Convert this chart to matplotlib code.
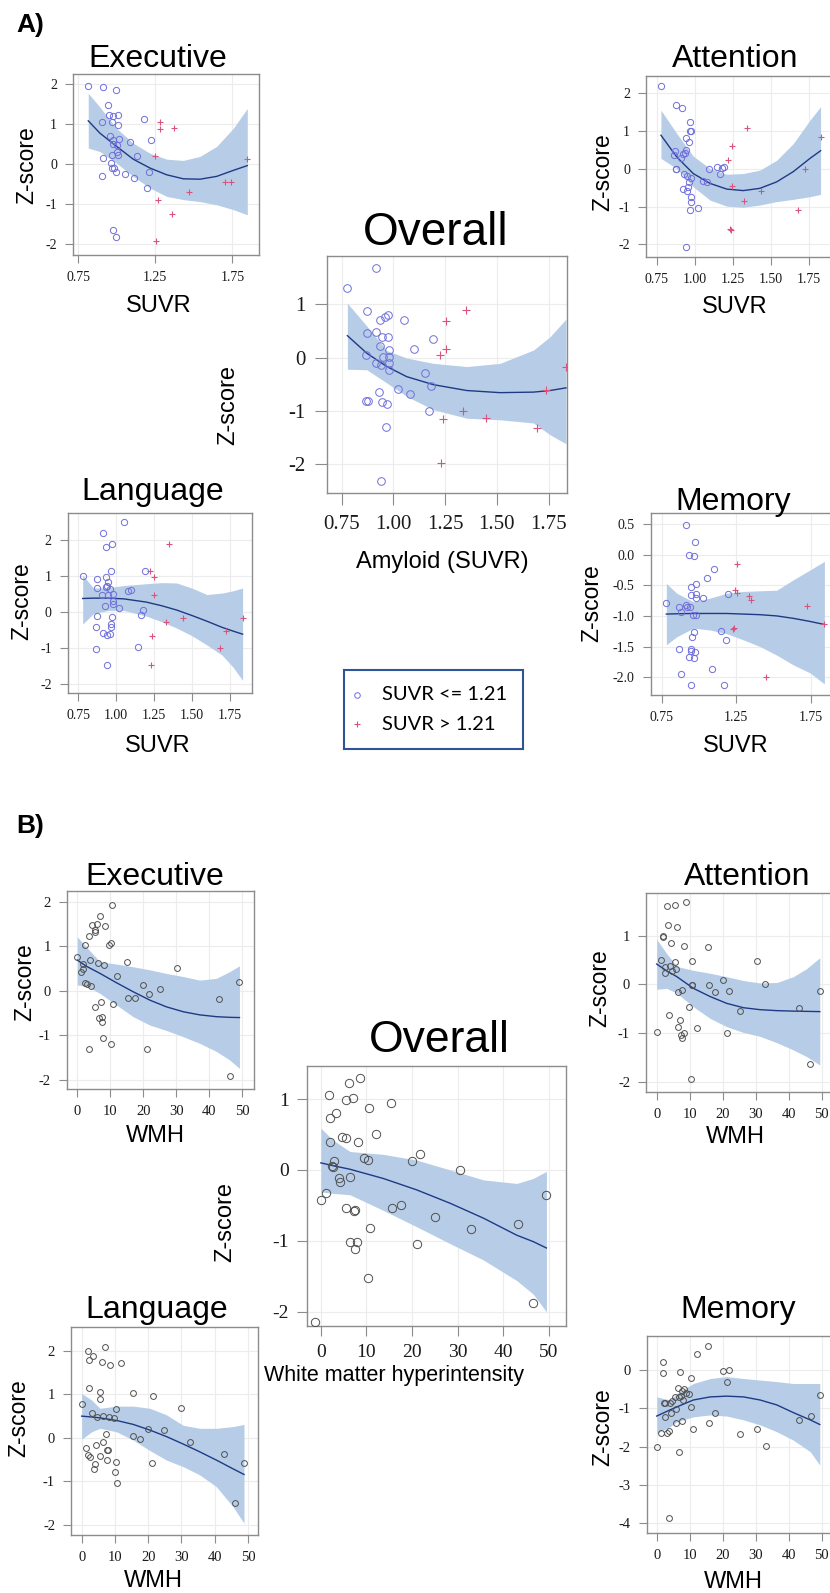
import matplotlib
matplotlib.use('Agg')
import matplotlib.pyplot as plt

plt.rcParams['axes.unicode_minus'] = False

# ---------------- DATA ----------------
# Panel A: Executive
EXA_CX = [0.815, 0.908, 0.997, 0.945, 0.95, 0.977, 1.008, 0.902, 0.968, 1.008, 1.176, 0.956, 0.977, 1.012, 0.999, 0.977, 1.083, 1.22,
          0.912, 0.968, 0.999, 1.008, 1.129, 0.962, 0.966, 0.981, 0.992, 1.055, 1.111, 1.207, 0.902, 1.196, 0.975, 0.997]
EXA_CY = [1.95, 1.93, 1.85, 1.48, 1.23, 1.19, 1.23, 1.04, 1.04, 0.98, 1.12, 0.69, 0.60, 0.62, 0.48, 0.50, 0.54, 0.60,
          0.16, 0.23, 0.31, 0.23, 0.20, 0.02, -0.09, -0.09, -0.19, -0.25, -0.35, -0.19, -0.31, -0.60, -1.65, -1.83]
EXA_PX = [1.28, 1.28, 1.371, 1.25, 1.267, 1.466, 1.356, 1.256, 1.70, 1.743, 1.847]
EXA_PY = [1.04, 0.87, 0.89, 0.19, -0.89, -0.69, -1.25, -1.92, -0.45, -0.44, 0.12]
EXA_FX = [0.815, 0.891, 0.999, 1.107, 1.215, 1.324, 1.432, 1.540, 1.648, 1.756, 1.847]
EXA_FIT = [1.08, 0.77, 0.44, 0.12, -0.10, -0.27, -0.37, -0.38, -0.31, -0.16, -0.04]
EXA_HI = [1.77, 1.42, 0.89, 0.52, 0.27, 0.12, 0.09, 0.19, 0.44, 0.89, 1.39]
EXA_LO = [0.40, 0.31, 0.02, -0.31, -0.60, -0.81, -0.89, -0.94, -1.02, -1.14, -1.27]

# Panel A: Attention
ATA_CX = [0.778, 0.875, 0.914, 0.971, 0.971, 0.975, 0.94, 0.962, 0.87, 0.94, 0.866, 0.925, 0.936, 0.908, 0.875, 0.879, 0.929, 0.947,
          0.975, 0.96, 0.958, 0.925, 0.947, 0.975, 0.975, 0.967, 1.021, 1.052, 1.078, 1.096, 1.144, 1.166, 1.179, 1.192, 0.94]
ATA_CY = [2.18, 1.67, 1.60, 1.24, 1.00, 1.00, 0.80, 0.71, 0.47, 0.49, 0.36, 0.38, 0.40, 0.27, 0.00, -0.01, -0.13, -0.19,
          -0.26, -0.35, -0.48, -0.54, -0.58, -0.74, -0.87, -1.10, -1.03, -0.32, -0.36, -0.01, 0.05, -0.15, 0.02, 0.05, -2.06]
ATA_PX = [1.345, 1.247, 1.220, 1.247, 1.325, 1.435, 1.234, 1.24, 1.68, 1.724, 1.826]
ATA_PY = [1.08, 0.59, 0.22, -0.46, -0.86, -0.58, -1.60, -1.62, -1.09, -0.02, 0.84]
ATA_FX = [0.778, 0.881, 0.99, 1.10, 1.21, 1.319, 1.428, 1.538, 1.647, 1.757, 1.826]
ATA_FIT = [0.88, 0.31, -0.13, -0.39, -0.54, -0.58, -0.52, -0.35, -0.08, 0.27, 0.47]
ATA_HI = [1.54, 0.93, 0.33, 0.0, -0.15, -0.13, -0.04, 0.22, 0.66, 1.28, 1.63]
ATA_LO = [0.27, 0.0, -0.48, -0.83, -0.99, -1.02, -0.96, -0.87, -0.81, -0.74, -0.68]

# Panel A: Overall
OVA_CX = [0.777, 0.913, 0.872, 0.935, 0.961, 0.974, 1.053, 0.872, 0.913, 0.943, 0.972, 0.935, 0.976, 1.193, 1.098, 0.866, 0.948,
          0.979, 0.916, 0.94, 0.98, 0.977, 1.15, 1.182, 1.024, 1.08, 0.929, 0.866, 0.876, 0.945, 0.969, 1.171, 0.963, 0.94]
OVA_CY = [1.31, 1.675, 0.87, 0.71, 0.76, 0.79, 0.71, 0.46, 0.47, 0.39, 0.38, 0.21, 0.14, 0.34, 0.16, 0.05, 0.01,
          0.01, -0.11, -0.14, -0.11, -0.24, -0.29, -0.53, -0.59, -0.69, -0.65, -0.81, -0.81, -0.84, -0.87, -1.01, -1.31, -2.31]
OVA_PX = [1.349, 1.253, 1.254, 1.225, 1.241, 1.335, 1.446, 1.693, 1.232, 1.738, 1.834]
OVA_PY = [0.89, 0.69, 0.16, 0.04, -1.15, -1.0, -1.14, -1.33, -1.99, -0.61, -0.17]
OVA_FX = [0.777, 0.871, 0.968, 1.064, 1.193, 1.354, 1.515, 1.677, 1.757, 1.834]
OVA_FIT = [0.41, 0.08, -0.17, -0.36, -0.51, -0.62, -0.66, -0.65, -0.62, -0.57]
OVA_HI = [1.02, 0.59, 0.13, -0.01, -0.11, -0.17, -0.11, 0.14, 0.39, 0.72]
OVA_LO = [-0.22, -0.23, -0.48, -0.73, -0.98, -1.14, -1.17, -1.23, -1.45, -1.62]

# Panel A: Language
LGA_CX = [0.779, 1.052, 0.913, 0.935, 0.973, 0.964, 0.876, 0.933, 0.874, 0.933, 0.942, 0.946, 0.960, 0.909, 0.946, 0.977, 0.982, 0.927,
          0.977, 1.022, 1.079, 1.099, 1.189, 1.180, 1.167, 0.874, 0.973, 0.966, 0.966, 0.865, 0.916, 0.942, 0.960, 1.147, 0.867, 0.940]
LGA_CY = [1.0, 2.48, 2.19, 1.81, 1.89, 1.13, 0.92, 0.97, 0.67, 0.70, 0.72, 0.83, 0.62, 0.48, 0.48, 0.49, 0.31, 0.17,
          0.21, 0.12, 0.57, 0.60, 1.13, 0.05, -0.10, -0.11, -0.15, -0.34, -0.41, -0.43, -0.60, -0.64, -0.61, -0.97, -1.04, -1.47]
LGA_PX = [1.348, 1.225, 1.249, 1.251, 1.328, 1.441, 1.238, 1.231, 1.686, 1.728, 1.836]
LGA_PY = [1.87, 1.14, 0.97, 0.47, -0.27, -0.18, -0.67, -1.48, -0.99, -0.54, -0.16]
LGA_FX = [0.779, 0.85, 0.95, 1.05, 1.2, 1.3, 1.4, 1.5, 1.6, 1.7, 1.77, 1.836]
LGA_FIT = [0.37, 0.38, 0.38, 0.36, 0.27, 0.17, 0.05, -0.10, -0.26, -0.43, -0.53, -0.62]
LGA_HI = [1.02, 0.66, 0.67, 0.73, 0.78, 0.81, 0.80, 0.66, 0.48, 0.52, 0.58, 0.66]
LGA_LO = [-0.34, -0.05, 0.04, 0.04, -0.12, -0.27, -0.45, -0.66, -0.92, -1.2, -1.52, -1.9]

# Panel A: Memory
MMA_CX = [0.916, 0.971, 0.936, 0.965, 1.101, 1.054, 0.978, 0.945, 1.195, 0.949, 0.978, 0.98, 1.025, 0.781, 0.869, 0.911, 0.92, 0.94,
          0.88, 0.958, 0.978, 0.967, 1.15, 1.184, 0.951, 0.869, 0.945, 0.945, 0.976, 0.931, 0.969, 1.086, 0.88, 0.945, 1.171]
MMA_CY = [0.49, 0.21, 0.0, -0.03, -0.24, -0.38, -0.48, -0.53, -0.64, -0.66, -0.64, -0.70, -0.70, -0.79, -0.86, -0.82, -0.86, -0.85,
          -0.93, -0.98, -0.98, -1.27, -1.24, -1.40, -1.35, -1.54, -1.54, -1.58, -1.59, -1.67, -1.69, -1.87, -1.95, -2.13, -2.13]
MMA_PX = [1.253, 1.24, 1.253, 1.334, 1.347, 1.728, 1.229, 1.236, 1.448, 1.842]
MMA_PY = [-0.16, -0.58, -0.63, -0.68, -0.74, -0.84, -1.22, -1.20, -2.0, -1.13]
MMA_FX = [0.781, 0.851, 0.963, 1.074, 1.186, 1.298, 1.41, 1.522, 1.634, 1.746, 1.842]
MMA_FIT = [-0.97, -0.965, -0.96, -0.96, -0.96, -0.97, -0.98, -1.0, -1.04, -1.09, -1.14]
MMA_HI = [-0.47, -0.63, -0.77, -0.71, -0.63, -0.60, -0.59, -0.58, -0.41, -0.25, -0.11]
MMA_LO = [-1.47, -1.34, -1.20, -1.23, -1.29, -1.39, -1.50, -1.64, -1.80, -1.93, -2.11]

# Panel B: Executive
EXB_X = [0.0, 1.2, 1.6, 1.8, 2.2, 3.4, 2.2, 2.9, 3.8, 4.2, 3.6, 4.5, 5.3, 5.3, 5.4, 6.1, 6.2, 6.5, 6.9, 7.2, 7.5, 7.5, 8.1, 7.9, 8.5,
         9.5, 10.3, 10.5, 10.7, 10.2, 11.9, 15.2, 15.4, 17.4, 19.8, 21.6, 21.0, 24.9, 30.1, 42.9, 46.2, 49.1]
EXB_Y = [0.77, 0.43, 0.60, 0.48, 1.03, 1.22, 0.18, 0.15, 0.69, 0.11, -1.30, 1.47, 1.36, 1.32, -0.37, 1.49, 0.62, -0.60, 1.69, -0.25,
         -0.58, -0.70, 0.59, -1.07, 1.45, 1.03, 1.07, 1.93, -0.30, -1.19, 0.33, 0.65, -0.17, -0.17, 0.12, -0.08, -1.31, 0.03, 0.52,
         -0.18, -1.91, 0.20]
EXB_FX = [0, 2.8, 6.9, 11.9, 16.9, 22.0, 27.0, 32.1, 37.1, 42.1, 46.1, 49.1]
EXB_FIT = [0.69, 0.55, 0.39, 0.18, -0.02, -0.21, -0.36, -0.47, -0.54, -0.58, -0.595, -0.60]
EXB_HI = [1.21, 0.98, 0.65, 0.60, 0.54, 0.47, 0.39, 0.32, 0.24, 0.28, 0.43, 0.56]
EXB_LO = [0.13, 0.11, -0.06, -0.32, -0.58, -0.77, -0.89, -1.03, -1.18, -1.36, -1.55, -1.74]

# Panel B: Attention
ATB_X = [0.0, 1.2, 1.8, 2.0, 2.4, 2.4, 3.0, 3.5, 3.8, 4.0, 4.3, 4.6, 5.5, 5.6, 5.9, 6.3, 6.4, 6.5, 7.1, 7.4, 7.7, 7.6, 8.2, 8.3, 8.8,
         9.7, 10.6, 10.8, 10.7, 10.3, 12.1, 15.5, 15.8, 17.8, 20.0, 21.2, 21.9, 25.1, 30.4, 32.9, 43.2, 46.5, 49.4]
ATB_Y = [-0.97, 0.51, 0.97, 1.0, 0.35, 0.23, 1.62, 1.23, -0.63, 0.37, 0.85, 0.28, 1.64, 0.47, 0.32, 1.19, -0.87, -0.16, -0.73, -1.04,
         -1.11, -0.11, -1.01, 0.79, 1.69, -0.46, -0.01, 0.49, -0.01, -1.95, -0.90, 0.78, -0.01, -0.15, 0.09, -1.01, -0.13, -0.54,
         0.49, 0.0, -0.48, -1.63, -0.13]
ATB_FX = [0, 3.0, 6.1, 11.1, 16.2, 21.2, 26.3, 31.3, 36.4, 41.4, 45.5, 49.4]
ATB_FIT = [0.42, 0.28, 0.16, -0.08, -0.25, -0.39, -0.48, -0.52, -0.54, -0.55, -0.555, -0.56]
ATB_HI = [0.93, 0.64, 0.37, 0.29, 0.23, 0.16, 0.08, 0.03, 0.04, 0.16, 0.33, 0.55]
ATB_LO = [-0.10, -0.08, -0.18, -0.46, -0.70, -0.87, -0.99, -1.07, -1.20, -1.35, -1.49, -1.66]

# Panel B: Overall
OVB_X = [0.0, 1.2, 1.8, 2.0, 2.0, 2.5, 2.6, 3.0, 3.4, 3.9, 4.2, 4.7, 5.5, 5.5, 5.6, 6.2, 6.4, 7.0, 7.4, 7.3, 8.2, 8.6, 6.5, 8.0,
         7.6, 9.5, 10.4, 10.6, 10.8, 10.4, 12.1, 15.4, 15.6, 17.7, 20.0, 21.8, 21.2, 25.1, 30.5, 32.9, 43.3, 49.5, -1.2, 46.5]
OVB_Y = [-0.42, -0.33, 1.05, 0.73, 0.40, 0.05, 0.04, 0.12, 0.80, -0.11, -0.17, 0.47, 0.45, 0.98, -0.53, 1.23, -0.10, 1.01, -0.56,
         -0.58, 0.39, 1.29, -1.01, -1.01, -1.11, 0.17, 0.14, 0.88, -0.82, -1.53, 0.50, 0.95, -0.53, -0.50, 0.12, 0.22, -1.04, -0.66,
         0.0, -0.83, -0.76, -0.36, -2.14, -1.87]
OVB_FX = [0, 2.7, 6.4, 13.7, 21.0, 28.4, 35.7, 43.0, 46.6, 49.5]
OVB_FIT = [0.10, 0.06, 0.01, -0.12, -0.28, -0.47, -0.68, -0.92, -1.01, -1.10]
OVB_HI = [0.59, 0.42, 0.26, 0.22, 0.14, 0.0, -0.14, -0.19, -0.12, -0.02]
OVB_LO = [-0.31, -0.33, -0.35, -0.57, -0.80, -1.04, -1.27, -1.56, -1.75, -2.0]

# Panel B: Language
LGB_X = [0, 1.3, 1.8, 2.1, 2.0, 2.5, 2.3, 3.5, 3.0, 4.0, 3.8, 4.3, 4.7, 5.5, 5.5, 5.5, 6.2, 6.5, 6.5, 7.0, 7.3, 7.5, 8.0, 7.5, 8.2,
         8.6, 9.6, 10.4, 10.4, 10.1, 10.6, 11.9, 15.3, 15.4, 17.5, 19.8, 21.0, 21.5, 24.7, 30.0, 32.5, 42.7, 46.0, 48.8]
LGB_Y = [0.79, -0.23, 1.99, 1.80, -0.40, -0.43, 1.14, 1.89, 0.58, -0.59, -0.72, -0.17, 0.49, 1.05, 0.90, -0.42, 1.74, 0.51, -0.10,
         2.09, 0.10, -0.27, -0.27, -0.50, 0.47, 1.68, 0.46, 0.66, -0.55, -0.78, -1.04, 1.71, 1.02, 0.05, -0.02, 0.21, -0.57, 0.97,
         0.18, 0.68, -0.10, -0.37, -1.49, -0.57]
LGB_FX = [0, 3.0, 5.5, 10.5, 15.5, 20.5, 25.5, 30.5, 35.5, 40.5, 45.5, 48.8]
LGB_FIT = [0.50, 0.48, 0.46, 0.40, 0.31, 0.18, 0.03, -0.14, -0.32, -0.51, -0.71, -0.84]
LGB_HI = [1.02, 0.87, 0.68, 0.73, 0.73, 0.68, 0.53, 0.29, 0.22, 0.22, 0.26, 0.31]
LGB_LO = [-0.03, 0.14, 0.22, 0.14, -0.05, -0.29, -0.51, -0.66, -0.85, -1.12, -1.58, -1.96]

# Panel B: Memory
MMB_X = [0, 1.2, 2.0, 1.9, 2.2, 2.6, 2.5, 3.0, 3.6, 3.8, 4.0, 4.3, 4.6, 5.5, 5.7, 5.9, 6.3, 6.6, 6.7, 7.2, 7.5, 7.7, 7.8, 8.1, 8.3,
         8.9, 9.7, 10.4, 10.5, 10.9, 12.1, 15.5, 15.8, 17.8, 20.0, 21.2, 21.9, 25.2, 30.5, 33.0, 43.2, 46.6, 49.4]
MMB_Y = [-2.0, -1.63, 0.22, -0.08, -0.85, -0.85, -1.23, -1.63, -1.58, -3.86, -0.87, -1.13, -0.80, -0.70, -1.39, -1.02, -0.46, -2.13,
         -0.70, -0.04, -0.67, -1.32, -0.55, -0.78, -0.50, -0.61, -0.63, -0.96, -0.21, -1.55, 0.41, 0.63, -1.39, -1.11, -0.03, -0.30,
         0.0, -1.68, -1.54, -1.97, -1.30, -1.20, -0.65]
MMB_FX = [0, 4.0, 6.1, 11.1, 16.2, 21.2, 26.3, 31.3, 36.4, 41.4, 46.5, 49.4]
MMB_FIT = [-1.20, -1.04, -0.96, -0.78, -0.70, -0.68, -0.70, -0.78, -0.91, -1.11, -1.30, -1.42]
MMB_HI = [-0.70, -0.78, -0.61, -0.35, -0.22, -0.17, -0.22, -0.26, -0.30, -0.35, -0.35, -0.35]
MMB_LO = [-1.65, -1.48, -1.35, -1.22, -1.17, -1.20, -1.30, -1.43, -1.61, -1.83, -2.13, -2.48]

SUVR_TICKS_3 = [0.75, 1.25, 1.75]
SUVR_TICKS_5 = [0.75, 1.00, 1.25, 1.50, 1.75]
WMH_TICKS = [0, 10, 20, 30, 40, 50]
LEGEND_LABELS = ['SUVR <= 1.21', 'SUVR > 1.21']

# ---------------- STYLE ----------------
W, H = 830, 1593
fig = plt.figure(figsize=(W / 100, H / 100), dpi=100)
SANS = ['Liberation Sans', 'Arimo', 'DejaVu Sans']
SERIF = ['Liberation Serif', 'Tinos', 'DejaVu Serif']
BAND = '#B7CDE7'
LINE = '#1E3A85'
CIRC = '#6F6FDB'
CROSS = '#D9537A'
GREY = '#505050'
FRAME = '#8C8C8C'


def add_ax(l, t, r, b):
    return fig.add_axes([l / W, 1 - b / H, (r - l) / W, (b - t) / H])


def ftext(x, y, s, **kw):
    fig.text(x / W, 1 - y / H, s, **kw)


def style(ax, xlim, ylim, xticks, yticks, xfmt, yfmt, fs, tl, pad):
    ax.set_xlim(xlim)
    ax.set_ylim(ylim)
    ax.set_xticks(xticks)
    ax.set_yticks(yticks)
    ax.set_xticklabels([xfmt.format(v) for v in xticks])
    ax.set_yticklabels([yfmt.format(v) for v in yticks])
    for lab in ax.get_xticklabels() + ax.get_yticklabels():
        lab.set_fontfamily(SERIF)
        lab.set_fontsize(fs)
        lab.set_color('#1a1a1a')
    ax.grid(True, color='#ECECEC', lw=0.8)
    ax.set_axisbelow(True)
    for s in ax.spines.values():
        s.set_color(FRAME)
        s.set_linewidth(1.0)
    ax.tick_params(direction='out', length=tl, width=0.8, color=FRAME, pad=pad,
                   top=False, right=False)


def fit_band(ax, fx, fit, lo, hi):
    ax.fill_between(fx, lo, hi, color=BAND, lw=0, zorder=2)
    ax.plot(fx, fit, color=LINE, lw=1.0, zorder=3)


def pts_a(ax, cx, cy, px, py, ms):
    ax.plot(cx, cy, 'o', mfc='none', mec=CIRC, ms=ms, mew=0.7, zorder=4)
    ax.plot(px, py, '+', color=CROSS, ms=ms, mew=0.8, zorder=4)


def pts_b(ax, x, y, ms):
    ax.plot(x, y, 'o', mfc='none', mec=GREY, ms=ms, mew=0.7, zorder=4)


TITLE_FS = 23
OVR_FS = 33
YL_FS = 16.5
XL_FS = 17

# ----- A) panels -----
ftext(16, 32, 'A)', fontfamily=SANS, fontsize=19, fontweight='bold', ha='left', va='baseline')

ax = add_ax(73, 74, 259, 255)
fit_band(ax, EXA_FX, EXA_FIT, EXA_LO, EXA_HI)
pts_a(ax, EXA_CX, EXA_CY, EXA_PX, EXA_PY, 4.5)
style(ax, (0.716, 1.923), (-2.275, 2.25), SUVR_TICKS_3, [-2, -1, 0, 1, 2], '{:.2f}', '{:g}', 10, 5.5, 6)
ftext(158, 67, 'Executive', fontfamily=SANS, fontsize=TITLE_FS, ha='center', va='baseline')
ftext(27, 165, 'Z-score', fontfamily=SANS, fontsize=YL_FS, ha='center', va='center', rotation=90)
ftext(159, 312, 'SUVR', fontfamily=SANS, fontsize=XL_FS, ha='center', va='baseline')

ax = add_ax(646, 76, 832, 257)
fit_band(ax, ATA_FX, ATA_FIT, ATA_LO, ATA_HI)
pts_a(ax, ATA_CX, ATA_CY, ATA_PX, ATA_PY, 4.5)
style(ax, (0.680, 1.901), (-2.33, 2.44), SUVR_TICKS_5, [-2, -1, 0, 1, 2], '{:.2f}', '{:g}', 10, 5.5, 6)
ftext(735, 67, 'Attention', fontfamily=SANS, fontsize=TITLE_FS, ha='center', va='baseline')
ftext(603, 172, 'Z-score', fontfamily=SANS, fontsize=YL_FS, ha='center', va='center', rotation=90)
ftext(735, 313, 'SUVR', fontfamily=SANS, fontsize=XL_FS, ha='center', va='baseline')

ax = add_ax(326.7, 256, 567, 493.3)
fit_band(ax, OVA_FX, OVA_FIT, OVA_LO, OVA_HI)
pts_a(ax, OVA_CX, OVA_CY, OVA_PX, OVA_PY, 5.5)
style(ax, (0.677, 1.839), (-2.55, 1.906), SUVR_TICKS_5, [-2, -1, 0, 1], '{:.2f}', '{:g}', 15, 8.5, 7)
ftext(436, 245, 'Overall', fontfamily=SANS, fontsize=OVR_FS, ha='center', va='baseline')
ftext(228, 405, 'Z-score', fontfamily=SANS, fontsize=17, ha='center', va='center', rotation=90)
ftext(442, 568, 'Amyloid (SUVR)', fontfamily=SANS, fontsize=17, ha='center', va='baseline')

ax = add_ax(67.7, 512.7, 252.3, 693.3)
fit_band(ax, LGA_FX, LGA_FIT, LGA_LO, LGA_HI)
pts_a(ax, LGA_CX, LGA_CY, LGA_PX, LGA_PY, 4.5)
style(ax, (0.68, 1.90), (-2.26, 2.75), SUVR_TICKS_5, [-2, -1, 0, 1, 2], '{:.2f}', '{:g}', 10, 5.5, 6)
ftext(152.5, 500, 'Language', fontfamily=SANS, fontsize=TITLE_FS, ha='center', va='baseline')
ftext(22, 601, 'Z-score', fontfamily=SANS, fontsize=YL_FS, ha='center', va='center', rotation=90)
ftext(157.5, 752, 'SUVR', fontfamily=SANS, fontsize=XL_FS, ha='center', va='baseline')

ax = add_ax(650.7, 513.3, 832, 695)
fit_band(ax, MMA_FX, MMA_FIT, MMA_LO, MMA_HI)
pts_a(ax, MMA_CX, MMA_CY, MMA_PX, MMA_PY, 4.5)
style(ax, (0.676, 1.893), (-2.29, 0.674), SUVR_TICKS_3, [-2.0, -1.5, -1.0, -0.5, 0.0, 0.5], '{:.2f}', '{:.1f}', 10, 5.5, 6)
ftext(733, 510, 'Memory', fontfamily=SANS, fontsize=TITLE_FS, ha='center', va='baseline')
ftext(592, 603, 'Z-score', fontfamily=SANS, fontsize=YL_FS, ha='center', va='center', rotation=90)
ftext(735.5, 752, 'SUVR', fontfamily=SANS, fontsize=XL_FS, ha='center', va='baseline')

# legend box
lg = add_ax(344, 670, 523, 749)
lg.set_xlim(0, 1)
lg.set_ylim(0, 1)
lg.set_xticks([])
lg.set_yticks([])
for s in lg.spines.values():
    s.set_color('#2F5597')
    s.set_linewidth(1.5)
lg.plot([0.073], [0.684], 'o', mfc='none', mec=CIRC, ms=4, mew=0.7)
lg.plot([0.073], [0.316], '+', color=CROSS, ms=4.5, mew=0.8)
lg.text(0.212, 0.684, LEGEND_LABELS[0], fontfamily=['Lato', 'DejaVu Sans'], fontsize=14.5, va='center', ha='left',
        transform=lg.transAxes)
lg.text(0.212, 0.316, LEGEND_LABELS[1], fontfamily=['Lato', 'DejaVu Sans'], fontsize=14.5, va='center', ha='left',
        transform=lg.transAxes)

# ----- B) panels -----
ftext(16, 833, 'B)', fontfamily=SANS, fontsize=19, fontweight='bold', ha='left', va='baseline')

ax = add_ax(66.7, 891, 254, 1089.3)
fit_band(ax, EXB_FX, EXB_FIT, EXB_LO, EXB_HI)
pts_b(ax, EXB_X, EXB_Y, 4.2)
style(ax, (-3.2, 53.5), (-2.21, 2.24), WMH_TICKS, [-2, -1, 0, 1, 2], '{:g}', '{:g}', 10.5, 5.5, 6)
ftext(155, 885, 'Executive', fontfamily=SANS, fontsize=TITLE_FS, ha='center', va='baseline')
ftext(25, 982, 'Z-score', fontfamily=SANS, fontsize=YL_FS, ha='center', va='center', rotation=90)
ftext(155, 1142, 'WMH', fontfamily=SANS, fontsize=XL_FS, ha='center', va='baseline')

ax = add_ax(646, 892.7, 832, 1091.7)
fit_band(ax, ATB_FX, ATB_FIT, ATB_LO, ATB_HI)
pts_b(ax, ATB_X, ATB_Y, 4.2)
style(ax, (-3.24, 53.1), (-2.21, 1.89), WMH_TICKS, [-2, -1, 0, 1], '{:g}', '{:g}', 10.5, 5.5, 6)
ftext(747.5, 885, 'Attention', fontfamily=SANS, fontsize=TITLE_FS, ha='center', va='baseline')
ftext(600, 988, 'Z-score', fontfamily=SANS, fontsize=YL_FS, ha='center', va='center', rotation=90)
ftext(735, 1143, 'WMH', fontfamily=SANS, fontsize=XL_FS, ha='center', va='baseline')

ax = add_ax(306.7, 1065.7, 566, 1326)
fit_band(ax, OVB_FX, OVB_FIT, OVB_LO, OVB_HI)
pts_b(ax, OVB_X, OVB_Y, 6)
style(ax, (-3.1, 53.8), (-2.20, 1.47), WMH_TICKS, [-2, -1, 0, 1], '{:g}', '{:g}', 14, 7.0, 6)
ftext(439, 1051.7, 'Overall', fontfamily=SANS, fontsize=32, ha='center', va='baseline')
ftext(225, 1222, 'Z-score', fontfamily=SANS, fontsize=17, ha='center', va='center', rotation=90)
ftext(394, 1381, 'White matter hyperintensity', fontfamily=SANS, fontsize=15.5, ha='center', va='baseline')

ax = add_ax(71, 1327.3, 258.3, 1535)
fit_band(ax, LGB_FX, LGB_FIT, LGB_LO, LGB_HI)
pts_b(ax, LGB_X, LGB_Y, 4.2)
style(ax, (-3.2, 53.1), (-2.23, 2.54), WMH_TICKS, [-2, -1, 0, 1, 2], '{:g}', '{:g}', 10.5, 5.5, 6)
ftext(157, 1318, 'Language', fontfamily=SANS, fontsize=TITLE_FS, ha='center', va='baseline')
ftext(19, 1418, 'Z-score', fontfamily=SANS, fontsize=YL_FS, ha='center', va='center', rotation=90)
ftext(153, 1587, 'WMH', fontfamily=SANS, fontsize=XL_FS, ha='center', va='baseline')

ax = add_ax(646.7, 1336, 832, 1533.3)
fit_band(ax, MMB_FX, MMB_FIT, MMB_LO, MMB_HI)
pts_b(ax, MMB_X, MMB_Y, 4.2)
style(ax, (-3.04, 53.1), (-4.26, 0.89), WMH_TICKS, [-4, -3, -2, -1, 0], '{:g}', '{:g}', 10.5, 5.5, 6)
ftext(738.5, 1318, 'Memory', fontfamily=SANS, fontsize=TITLE_FS, ha='center', va='baseline')
ftext(603, 1427, 'Z-score', fontfamily=SANS, fontsize=YL_FS, ha='center', va='center', rotation=90)
ftext(733, 1588, 'WMH', fontfamily=SANS, fontsize=XL_FS, ha='center', va='baseline')

fig.savefig('out.png', dpi=100)
